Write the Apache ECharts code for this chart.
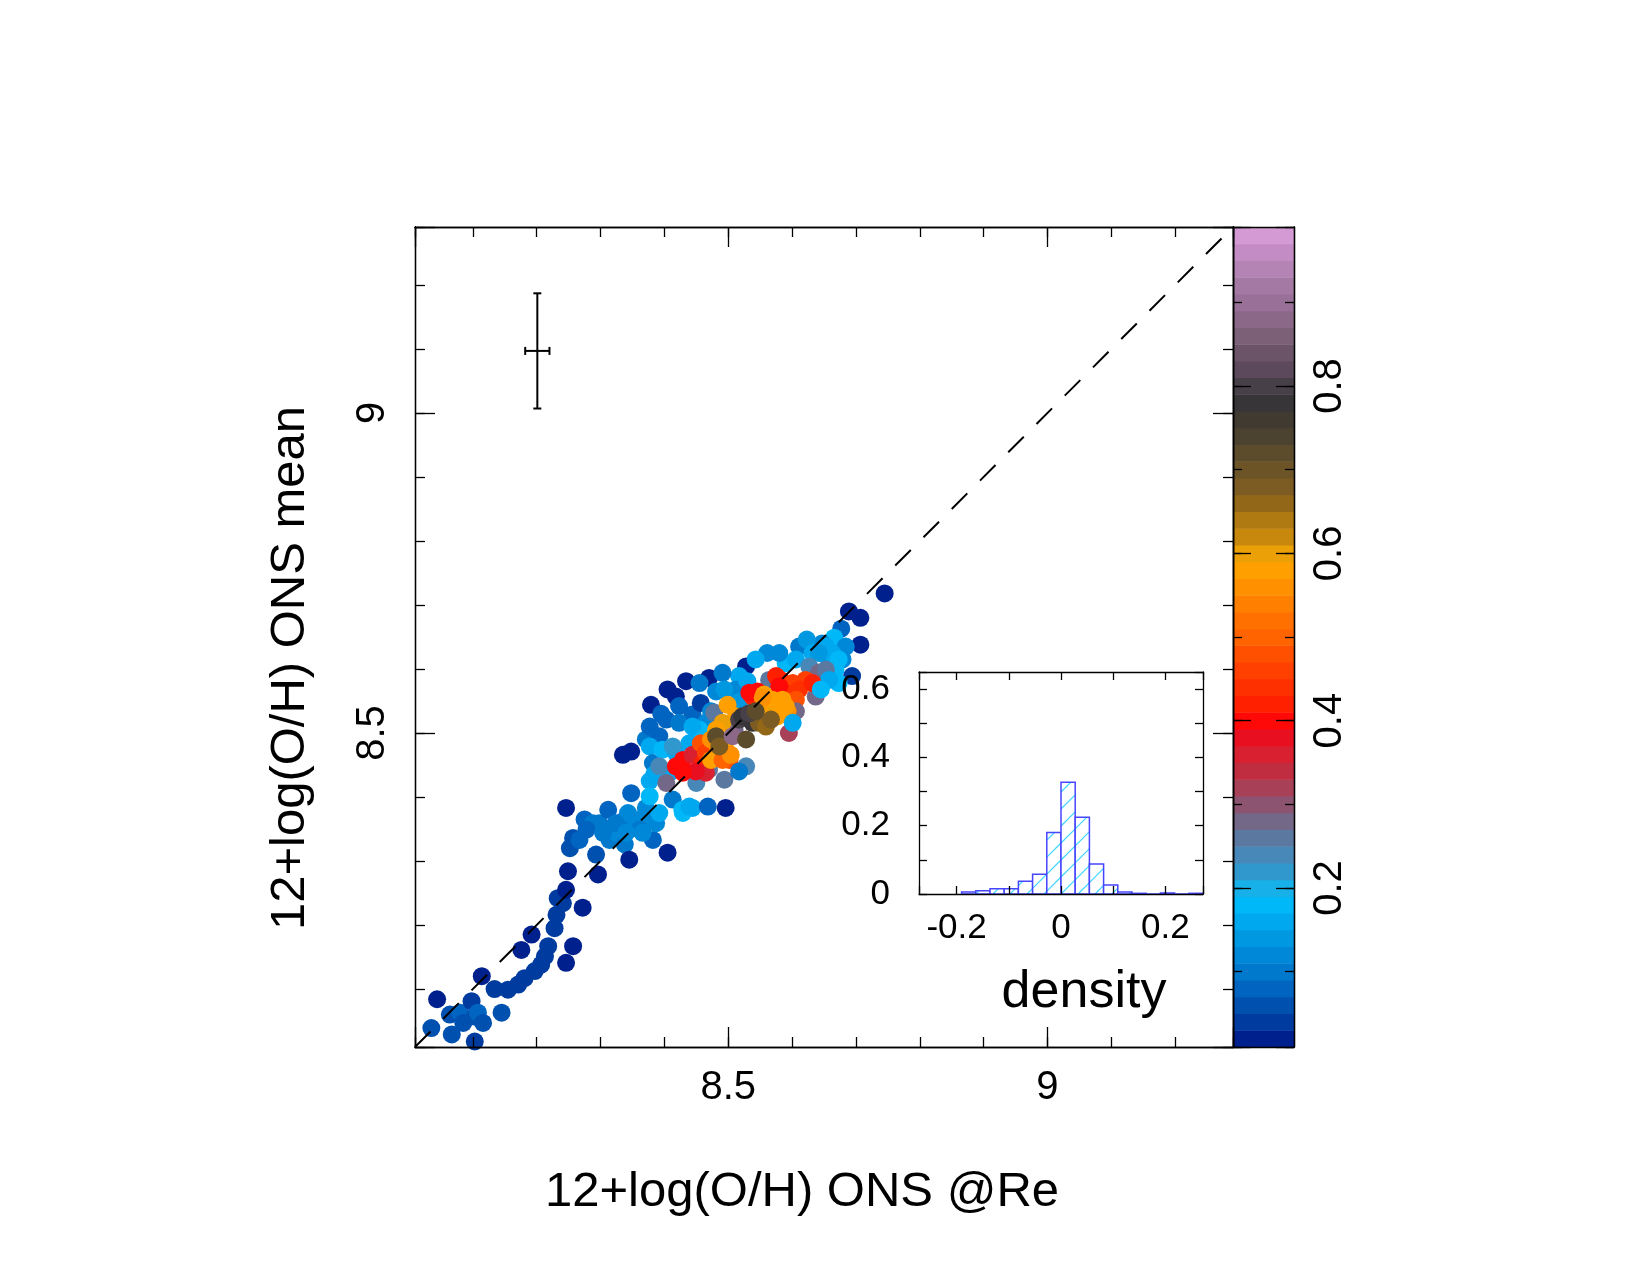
<!DOCTYPE html>
<html>
<head>
<meta charset="utf-8">
<title>12+log(O/H) ONS mean vs @Re</title>
<script src="https://cdn.jsdelivr.net/npm/echarts@6/dist/echarts.min.js"></script>
<style>
  html, body { margin: 0; padding: 0; background: #fff; }
  #chart { width: 1650px; height: 1275px; }
</style>
</head>
<body>
<div id="chart"></div>
<script>
// both axes of the main panel share this range
var axisRange = [8.0094, 9.2906];

// [ONS @Re, ONS mean, point density]
var points = [
  [8.035, 8.039, 0.06], [8.044, 8.084, 0.02], [8.064, 8.060, 0.06], [8.067, 8.029, 0.06],
  [8.080, 8.063, 0.08], [8.085, 8.047, 0.06], [8.098, 8.081, 0.04], [8.103, 8.057, 0.06],
  [8.103, 8.018, 0.04], [8.108, 8.063, 0.08], [8.114, 8.120, 0.02], [8.116, 8.047, 0.06],
  [8.134, 8.100, 0.04], [8.145, 8.063, 0.06], [8.155, 8.099, 0.04], [8.171, 8.107, 0.04],
  [8.176, 8.161, 0.02], [8.181, 8.117, 0.04], [8.192, 8.185, 0.02], [8.197, 8.128, 0.04],
  [8.207, 8.138, 0.04], [8.213, 8.151, 0.04], [8.218, 8.167, 0.04], [8.228, 8.195, 0.04],
  [8.231, 8.216, 0.04], [8.233, 8.242, 0.04], [8.241, 8.234, 0.04], [8.246, 8.255, 0.02],
  [8.246, 8.141, 0.02], [8.249, 8.284, 0.02], [8.257, 8.167, 0.02], [8.272, 8.227, 0.02],
  [8.296, 8.279, 0.02],
  [8.246, 8.383, 0.02], [8.252, 8.320, 0.06], [8.257, 8.336, 0.06], [8.267, 8.333, 0.08],
  [8.275, 8.365, 0.08], [8.288, 8.359, 0.10], [8.293, 8.310, 0.06], [8.298, 8.359, 0.10],
  [8.312, 8.380, 0.08], [8.314, 8.333, 0.10], [8.325, 8.344, 0.12], [8.335, 8.362, 0.10],
  [8.338, 8.326, 0.10], [8.343, 8.375, 0.12], [8.345, 8.302, 0.02], [8.356, 8.359, 0.12],
  [8.366, 8.367, 0.12], [8.382, 8.333, 0.08], [8.387, 8.359, 0.12], [8.405, 8.313, 0.02],
  [8.348, 8.406, 0.08], [8.371, 8.383, 0.12], [8.335, 8.466, 0.02], [8.348, 8.471, 0.02],
  [8.377, 8.425, 0.16], [8.278, 8.349, 0.08], [8.304, 8.344, 0.10], [8.324, 8.359, 0.10],
  [8.361, 8.349, 0.10], [8.366, 8.344, 0.12], [8.340, 8.344, 0.12],
  [8.379, 8.544, 0.02], [8.395, 8.530, 0.08], [8.405, 8.568, 0.02], [8.418, 8.557, 0.02],
  [8.434, 8.581, 0.02], [8.444, 8.529, 0.08], [8.457, 8.547, 0.04], [8.470, 8.586, 0.02],
  [8.528, 8.604, 0.02], [8.561, 8.625, 0.12], [8.611, 8.635, 0.10], [8.689, 8.690, 0.02],
  [8.707, 8.680, 0.02], [8.707, 8.638, 0.02], [8.745, 8.718, 0.02], [8.677, 8.663, 0.08],
  [8.694, 8.589, 0.04], [8.679, 8.615, 0.12], [8.666, 8.649, 0.18], [8.647, 8.640, 0.12],
  [8.623, 8.646, 0.14], [8.652, 8.622, 0.14], [8.653, 8.635, 0.16], [8.632, 8.625, 0.16],
  [8.668, 8.599, 0.18], [8.673, 8.578, 0.18], [8.590, 8.609, 0.18],
  [8.684, 8.635, 0.12], [8.663, 8.625, 0.16], [8.673, 8.615, 0.18], [8.642, 8.625, 0.14],
  [8.606, 8.615, 0.16], [8.580, 8.625, 0.12], [8.543, 8.615, 0.16], [8.517, 8.589, 0.16],
  [8.491, 8.594, 0.10], [8.455, 8.578, 0.10], [8.512, 8.568, 0.12], [8.423, 8.542, 0.08],
  [8.403, 8.521, 0.08], [8.423, 8.516, 0.10], [8.465, 8.516, 0.12], [8.371, 8.490, 0.10],
  [8.377, 8.510, 0.08], [8.392, 8.495, 0.08], [8.377, 8.479, 0.16], [8.382, 8.453, 0.10],
  [8.397, 8.474, 0.18], [8.413, 8.396, 0.10], [8.408, 8.438, 0.16], [8.428, 8.380, 0.18],
  [8.444, 8.383, 0.16], [8.468, 8.385, 0.08], [8.496, 8.383, 0.02], [8.384, 8.435, 0.16],
  [8.377, 8.401, 0.18], [8.392, 8.375, 0.16], [8.429, 8.375, 0.18], [8.439, 8.385, 0.16],
  [8.473, 8.534, 0.12], [8.481, 8.565, 0.12], [8.494, 8.568, 0.14], [8.517, 8.549, 0.14],
  [8.530, 8.581, 0.16], [8.439, 8.484, 0.16], [8.455, 8.505, 0.18], [8.444, 8.510, 0.16],
  [8.418, 8.469, 0.16], [8.460, 8.490, 0.18], [8.392, 8.448, 0.24],
  [8.413, 8.479, 0.22], [8.403, 8.422, 0.28], [8.450, 8.422, 0.24], [8.494, 8.427, 0.26],
  [8.478, 8.532, 0.26], [8.564, 8.583, 0.26], [8.627, 8.604, 0.24], [8.642, 8.594, 0.28],
  [8.470, 8.443, 0.26], [8.653, 8.599, 0.26], [8.658, 8.583, 0.16], [8.637, 8.557, 0.28],
  [8.418, 8.448, 0.40], [8.429, 8.458, 0.40], [8.444, 8.466, 0.36], [8.460, 8.453, 0.42],
  [8.465, 8.438, 0.36], [8.457, 8.484, 0.48], [8.546, 8.565, 0.40], [8.538, 8.557, 0.42],
  [8.575, 8.589, 0.42], [8.582, 8.583, 0.42], [8.601, 8.578, 0.46], [8.621, 8.583, 0.46],
  [8.449, 8.440, 0.38], [8.429, 8.438, 0.40], [8.465, 8.469, 0.46], [8.543, 8.552, 0.42],
  [8.533, 8.563, 0.40], [8.590, 8.563, 0.44], [8.611, 8.568, 0.44], [8.580, 8.573, 0.40],
  [8.606, 8.552, 0.48], [8.632, 8.578, 0.42],
  [8.595, 8.500, 0.32], [8.606, 8.534, 0.28], [8.645, 8.568, 0.18], [8.510, 8.505, 0.28],
  [8.499, 8.544, 0.58], [8.512, 8.526, 0.58], [8.556, 8.560, 0.58], [8.473, 8.490, 0.56],
  [8.491, 8.516, 0.60], [8.496, 8.474, 0.58], [8.502, 8.458, 0.48], [8.564, 8.542, 0.58],
  [8.575, 8.542, 0.60], [8.585, 8.552, 0.58], [8.593, 8.534, 0.56], [8.483, 8.469, 0.56],
  [8.473, 8.458, 0.58], [8.491, 8.458, 0.50], [8.504, 8.466, 0.56], [8.481, 8.505, 0.58],
  [8.577, 8.526, 0.58], [8.590, 8.542, 0.58], [8.569, 8.552, 0.58], [8.554, 8.555, 0.56],
  [8.481, 8.495, 0.72], [8.486, 8.479, 0.68], [8.507, 8.495, 0.88], [8.517, 8.521, 0.80],
  [8.528, 8.490, 0.72], [8.538, 8.516, 0.78], [8.548, 8.516, 0.68], [8.559, 8.516, 0.68],
  [8.522, 8.526, 0.78], [8.533, 8.531, 0.80], [8.543, 8.534, 0.72], [8.559, 8.510, 0.66],
  [8.567, 8.521, 0.68],
  [8.528, 8.448, 0.24], [8.601, 8.516, 0.16], [8.517, 8.440, 0.10]
];

// typical error of one point: centre and half widths
var errCenter = [8.201, 9.097];
var errHalf = [0.019, 0.09];

// inset histogram of residuals
var histEdges = [-0.1904, -0.1632, -0.1360, -0.1088, -0.0816, -0.0544, -0.0272, 0,
  0.0272, 0.0544, 0.0816, 0.1088, 0.1360, 0.1632, 0.1904, 0.2176, 0.2448, 0.2720];
var histValues = [0.006, 0.0097, 0.0156, 0.0156, 0.037, 0.058, 0.180, 0.327,
  0.225, 0.088, 0.026, 0.006, 0.002, 0, 0.003, 0, 0.002];
var histXRange = [-0.272, 0.272];
var histYRange = [0, 0.65];

// colour scale: one colour per 0.02 step, centred on 0.02 ... 0.98
var colorRange = [0.01, 0.99];
var bandColors = [
  '#00208e', '#003ca0', '#0050b0', '#0064c0', '#0078cc', '#0088d8', '#0098e0', '#00a8f0',
  '#00b8f8', '#18b0e8', '#3098cc', '#4888b8', '#5a78a0', '#746888', '#8c5470', '#a84058',
  '#c02c40', '#d82030', '#e81020', '#ff0808', '#ff2000', '#ff3000', '#ff4000', '#ff5000',
  '#ff6400', '#ff7000', '#ff8000', '#ff9000', '#ffa000', '#eca008', '#c8880e', '#b07a12',
  '#926818', '#7c5c22', '#6c5426', '#5c4c2c', '#4c4230', '#403a30', '#383538', '#484048',
  '#5c4a5c', '#6c5468', '#7c6078', '#8c6888', '#987098', '#a47aa4', '#b484b4', '#c48cc4',
  '#d49ad4'
];

var FONT = 'Liberation Sans, Arial, Helvetica, sans-serif';

function densColor(d) {
  var i = Math.round((d - 0.02) / 0.02);
  i = Math.max(0, Math.min(bandColors.length - 1, i));
  return bandColors[i];
}

function near(v, step) {
  return Math.abs(v / step - Math.round(v / step)) < 1e-6;
}

// one axis of a boxed frame; ticks point inwards
function frameAxis(grid, pos, range, split, tick, more) {
  var ax = {
    type: 'value',
    gridIndex: grid,
    position: pos,
    min: range[0],
    max: range[1],
    splitNumber: split,
    z: 10,
    splitLine: { show: false },
    axisLine: { show: true, onZero: false, lineStyle: { color: '#000', width: 1.3 } },
    axisTick: { show: tick > 0, inside: true, length: tick, lineStyle: { color: '#000', width: 1.3 } },
    axisLabel: { show: false }
  };
  return Object.assign(ax, more || {});
}

var mainLabel = {
  show: true, fontSize: 40, fontFamily: FONT, color: '#000',
  formatter: function (v) { return near(v, 0.5) ? String(Math.round(v * 10) / 10) : ''; }
};

var chart = echarts.init(document.getElementById('chart'));

var histData = histValues.map(function (v, i) { return [histEdges[i], histEdges[i + 1], v]; });
var bandData = bandColors.map(function (c, i) {
  return [colorRange[0] + i * 0.02, colorRange[0] + (i + 1) * 0.02, i];
});

var option = {
  animation: false,
  backgroundColor: '#fff',
  grid: [
    { left: 415, top: 227, width: 818, height: 820, outerBoundsMode: 'none' },
    { left: 919, top: 672, width: 284, height: 222, outerBoundsMode: 'none' },
    { left: 1233, top: 227, width: 61, height: 820, outerBoundsMode: 'none' }
  ],
  xAxis: [
    frameAxis(0, 'bottom', axisRange, 12, 10),
    frameAxis(0, 'bottom', axisRange, 3, 20, {
      axisLabel: Object.assign({ margin: 21 }, mainLabel),
      name: '12+log(O/H) ONS @Re',
      nameLocation: 'middle',
      nameGap: 121,
      nameTextStyle: { fontSize: 49, fontFamily: FONT, color: '#000', padding: [0, 44, 0, 0] }
    }),
    frameAxis(0, 'top', axisRange, 12, 10),
    frameAxis(0, 'top', axisRange, 3, 20),
    frameAxis(1, 'bottom', histXRange, 5, 8, {
      axisLabel: {
        show: true, margin: 17, fontSize: 35, fontFamily: FONT, color: '#000',
        formatter: function (v) { return near(v, 0.2) ? (Math.abs(v) < 1e-9 ? '0' : v.toFixed(1)) : ''; }
      },
      name: 'density',
      nameLocation: 'middle',
      nameGap: 73,
      nameTextStyle: { fontSize: 52, fontFamily: FONT, color: '#000', padding: [0, 0, 0, 46] }
    }),
    frameAxis(1, 'top', histXRange, 5, 8),
    frameAxis(2, 'bottom', [0, 1], 1, 0),
    frameAxis(2, 'top', [0, 1], 1, 0)
  ],
  yAxis: [
    frameAxis(0, 'left', axisRange, 12, 10),
    frameAxis(0, 'left', axisRange, 3, 20, {
      axisLabel: Object.assign({ margin: 22, rotate: 90 }, mainLabel),
      name: '12+log(O/H) ONS mean',
      nameLocation: 'middle',
      nameGap: 100,
      nameTextStyle: { fontSize: 49, fontFamily: FONT, color: '#000', padding: [0, 62, 0, 0] }
    }),
    frameAxis(0, 'right', axisRange, 12, 10),
    frameAxis(0, 'right', axisRange, 3, 20),
    frameAxis(1, 'left', histYRange, 6, 8, {
      axisLabel: {
        show: true, margin: 29, fontSize: 35, fontFamily: FONT, color: '#000',
        formatter: function (v) { return near(v, 0.2) ? (v < 1e-9 ? '0' : v.toFixed(1)) : ''; }
      }
    }),
    frameAxis(1, 'right', histYRange, 6, 8),
    frameAxis(2, 'left', colorRange, 10, 9),
    frameAxis(2, 'left', colorRange, 5, 18),
    frameAxis(2, 'right', colorRange, 10, 9),
    frameAxis(2, 'right', colorRange, 5, 18, {
      axisLabel: {
        show: true, margin: 16, rotate: 90, fontSize: 40, fontFamily: FONT, color: '#000',
        formatter: function (v) { return near(v, 0.2) ? v.toFixed(1) : ''; }
      }
    })
  ],
  series: [
    {
      type: 'scatter',
      xAxisIndex: 0, yAxisIndex: 0,
      data: points,
      symbol: 'circle',
      symbolSize: 18,
      itemStyle: { opacity: 1, color: function (p) { return densColor(p.value[2]); } },
      silent: true,
      z: 2
    },
    {
      // y = x reference line
      type: 'line',
      xAxisIndex: 0, yAxisIndex: 0,
      data: [[axisRange[0], axisRange[0]], [axisRange[1], axisRange[1]]],
      symbol: 'none',
      lineStyle: { color: '#000', width: 2, type: [22, 18] },
      silent: true,
      z: 3
    },
    {
      type: 'custom',
      xAxisIndex: 0, yAxisIndex: 0,
      data: [[errCenter[0], errCenter[1], errHalf[0], errHalf[1]]],
      silent: true,
      z: 3,
      renderItem: function (params, api) {
        var cx = api.value(0), cy = api.value(1), ex = api.value(2), ey = api.value(3);
        var t = api.coord([cx, cy + ey]), b = api.coord([cx, cy - ey]);
        var l = api.coord([cx - ex, cy]), r = api.coord([cx + ex, cy]);
        var c = 4;
        var st = { stroke: '#000', lineWidth: 2 };
        function seg(x1, y1, x2, y2) {
          return { type: 'line', shape: { x1: x1, y1: y1, x2: x2, y2: y2 }, style: st };
        }
        return {
          type: 'group',
          children: [
            seg(t[0], t[1], b[0], b[1]),
            seg(t[0] - c, t[1], t[0] + c, t[1]),
            seg(b[0] - c, b[1], b[0] + c, b[1]),
            seg(l[0], l[1], r[0], r[1]),
            seg(l[0], l[1] - c, l[0], l[1] + c),
            seg(r[0], r[1] - c, r[0], r[1] + c)
          ]
        };
      }
    },
    {
      // histogram bars with hatching
      type: 'custom',
      xAxisIndex: 4, yAxisIndex: 4,
      data: histData,
      silent: true,
      z: 3,
      renderItem: function (params, api) {
        var p0 = api.coord([api.value(0), api.value(2)]);
        var p1 = api.coord([api.value(1), 0]);
        var x0 = p0[0], y0 = p0[1], x1 = p1[0], y1 = p1[1];
        var box = { x: x0, y: y0, width: x1 - x0, height: y1 - y0 };
        var kids = [{ type: 'rect', shape: box, style: { fill: '#fff' } }];
        var s = 17;
        for (var k = Math.ceil((x0 + y0) / s) * s; k <= x1 + y1; k += s) {
          var xa = Math.max(x0, k - y1), xb = Math.min(x1, k - y0);
          if (xb > xa) {
            kids.push({ type: 'line', shape: { x1: xa, y1: k - xa, x2: xb, y2: k - xb },
              style: { stroke: '#3fd6ff', lineWidth: 1.2 } });
          }
        }
        kids.push({ type: 'rect', shape: box, style: { fill: null, stroke: '#4646ff', lineWidth: 1.5 } });
        return { type: 'group', children: kids };
      }
    },
    {
      // colour bar
      type: 'custom',
      xAxisIndex: 6, yAxisIndex: 6,
      data: bandData,
      silent: true,
      z: 2,
      renderItem: function (params, api) {
        var a = api.coord([0, api.value(1)]);
        var b = api.coord([1, api.value(0)]);
        return {
          type: 'rect',
          shape: { x: a[0], y: a[1], width: b[0] - a[0], height: b[1] - a[1] + 0.5 },
          style: { fill: bandColors[api.value(2)] }
        };
      }
    }
  ]
};

chart.setOption(option);
</script>
</body>
</html>
